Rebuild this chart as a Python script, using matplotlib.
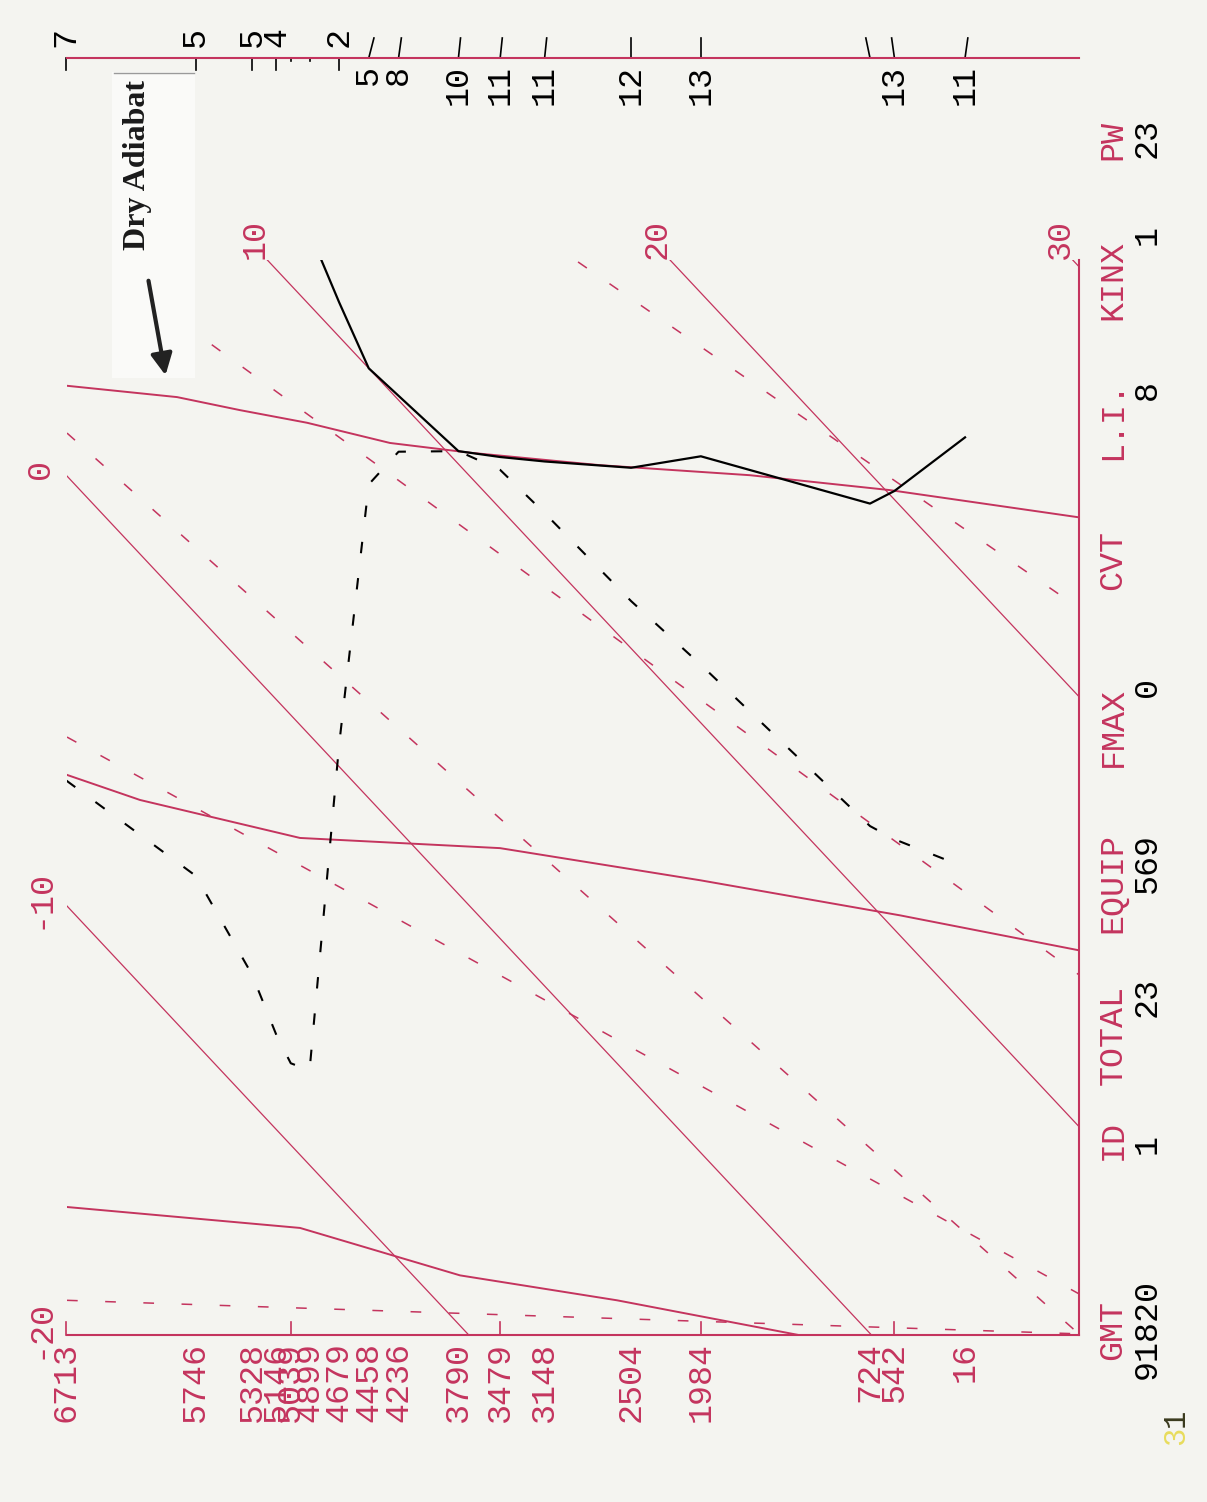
import matplotlib
matplotlib.use('Agg')
import matplotlib.pyplot as plt
from matplotlib.patches import Rectangle, FancyArrowPatch
import numpy as np

RED = '#c4345e'
BG = '#f4f4f0'
MONO = 'Liberation Mono'

# skew: plotted value = T - SKEW*(H_TOP - h)
H_TOP = 6713.0
SKEW = 1 / 300.0

def sk(h, t):
    h = np.asarray(h, float)
    t = np.asarray(t, float)
    return t - SKEW * (H_TOP - h)

# sounding levels (m) and their labels
levels = [6713, 5746, 5328, 5146, 5039, 4899, 4679, 4458, 4236,
          3790, 3479, 3148, 2504, 1984, 724, 542, 16]
level_labels = [str(v) for v in levels]
tick_heights = [6713, 5039, 3479, 1984, 542]

# temperature (solid black)
temp_h = [4899, 4679, 4458, 4236, 3790, 3479, 3148, 2504, 1984, 724, 542, 16]
temp_t = [11.7, 10.8, 10.0, 10.1, 10.3, 11.2, 12.2, 14.2, 16.2, 19.3, 20.2, 23.2]

# dew point (dashed black)
dew_h = levels
dew_t = [-7.1, -6.1, -7.0, -7.8, -8.1, -7.8, 0.5, 7.3, 8.8, 10.3, 10.9,
         11.0, 11.1, 11.35, 11.8, 12.1, 13.2]

# wind speeds at the levels, tick tilt (deg) and side of the label
wind_spd = ['7', '5', '5', '4', '', '', '2', '5', '8', '10', '11', '11', '12', '13', '', '13', '11']
wind_tilt = [0, 0, 0, 0, 0, 0, 0, 15, 8, 6, 6, 6, 0, 0, -12, -8, 8]
wind_above = [True] * 7 + [False] * 10

# red solid curves (dry adiabats)
adiab1_h = [6706, 5886, 5417, 4918, 4300, 3704, 2735, 1618, 575, -833]
adiab1_t = [2.1, 4.57, 5.83, 7.2, 8.79, 10.55, 13.49, 16.98, 20.11, 24.17]
adiab2_h = [6706, 6162, 4970, 3480, 1990, 500, -833]
adiab2_t = [-6.95, -5.72, -2.63, 2.1, 6.32, 10.47, 14.1]
adiab3_h = [6706, 4970, 3778, 2608, 1245]
adiab3_t = [-17.0, -11.7, -8.83, -5.51, -1.78]

# red dashed lines: (h1, t1, h2, t2)
mix_lines = [
    (6706, 1.0, -841, 5.18),
    (6706, -6.07, -833, 6.11),
    (2899, 17.67, -833, 22.06),
    (6088, 6.16, -833, 13.53),
    (6706, -19.17, -833, 5.18),
]

isotherms = [-20, -10, 0, 10, 20, 30]

stat_names = ['PW', 'KINX', 'L.I.', 'CVT', 'FMAX', 'EQUIP', 'TOTAL', 'ID', 'GMT']
stat_values = ['23', '1', '8', '', '0', '569', '23', '1', '91820']

W, H = 1207, 1502
fig = plt.figure(figsize=(W / 100, H / 100), dpi=100)
fig.patch.set_facecolor(BG)

def fx(px):
    return px / W

def fy(py):
    return 1 - py / H

ax = fig.add_axes([fx(67), fy(1335), (1079 - 67) / W, (1335 - 58) / H])
ax.patch.set_visible(False)

H_LEFT, H_RIGHT = 6706, -833
Y_BOT, Y_TOP, Y_WIND = -20.0, 5.0, 9.7
ax.set_xlim(H_LEFT, H_RIGHT)
ax.set_ylim(Y_BOT, Y_WIND)
ax.set_xticks([])
ax.set_yticks([])
ax.spines['left'].set_visible(False)
for s in ['top', 'right', 'bottom']:
    ax.spines[s].set_color(RED)
    ax.spines[s].set_linewidth(1.5)
ax.spines['right'].set_bounds(Y_BOT, Y_TOP)

PX_H = (H_LEFT - H_RIGHT) / 1012.0
PX_Y = (Y_WIND - Y_BOT) / 1277.0

clip = Rectangle((H_RIGHT, Y_BOT), H_LEFT - H_RIGHT, Y_TOP - Y_BOT,
                 transform=ax.transData, fill=False, visible=False)
ax.add_patch(clip)

def draw(x, y, **kw):
    ln, = ax.plot(x, y, **kw)
    ln.set_clip_path(clip)
    return ln

# isotherms
hh = np.linspace(H_RIGHT, H_LEFT, 300)
for t in isotherms:
    draw(hh, sk(hh, t), color=RED, lw=0.9)
    if t <= 0:
        ax.annotate(str(t), xy=(H_LEFT, sk(H_LEFT, t)), xytext=(-8, 5),
                    textcoords='offset points', rotation=90, ha='right',
                    va='center', color=RED, fontsize=24, family=MONO,
                    annotation_clip=False)
    else:
        hc = H_TOP - (t - Y_TOP) / SKEW
        ax.annotate(str(t), xy=(hc, Y_TOP), xytext=(-9, 1),
                    textcoords='offset points', rotation=90, ha='center',
                    va='bottom', color=RED, fontsize=24, family=MONO,
                    annotation_clip=False)

# dashed red lines
for h1, t1, h2, t2 in mix_lines:
    draw([h1, h2], sk([h1, h2], [t1, t2]), color=RED, lw=1.1, dashes=(7, 18))

# dry adiabats
for ah, at in [(adiab1_h, adiab1_t), (adiab2_h, adiab2_t), (adiab3_h, adiab3_t)]:
    draw(ah, sk(ah, at), color=RED, lw=1.4)

# sounding
draw(dew_h, sk(dew_h, dew_t), color='black', lw=1.5, dashes=(5.5, 12))
draw(temp_h, sk(temp_h, temp_t), color='black', lw=1.6)

# bottom axis: height labels and ticks
for h, lbl in zip(levels, level_labels):
    ax.annotate(lbl, xy=(h, 0), xycoords=('data', 'axes fraction'),
                xytext=(0, -5), textcoords='offset points', rotation=90,
                ha='center', va='top', color=RED, fontsize=24, family=MONO)
for h in tick_heights:
    ax.plot([h, h], [Y_BOT, Y_BOT + 13 * PX_Y], color=RED, lw=1.2, clip_on=False)

# wind along the top line
for h, spd, tilt, above in zip(levels, wind_spd, wind_tilt, wind_above):
    dx = -np.sin(np.radians(tilt))
    if above:
        L = 12 if spd else 3
        ax.plot([h, h - dx * L * PX_H], [Y_WIND, Y_WIND - L * PX_Y],
                color='black', lw=1.2, clip_on=False)
        ax.annotate(spd, xy=(h, Y_WIND), xytext=(0, 8), textcoords='offset points',
                    rotation=90, ha='center', va='bottom', color='black',
                    fontsize=24, family=MONO, annotation_clip=False)
    else:
        L = 20
        ax.plot([h, h + dx * L * PX_H], [Y_WIND, Y_WIND + L * PX_Y],
                color='black', lw=1.2, clip_on=False)
        ax.annotate(spd, xy=(h, Y_WIND), xytext=(0, -5), textcoords='offset points',
                    rotation=90, ha='center', va='top', color='black',
                    fontsize=24, family=MONO, annotation_clip=False)

# station info along the right side
lab_top = [120, 240, 380, 530, 687, 833, 985, 1120, 1300]
val_top = [118, 225, 380, 0, 677, 833, 977, 1134, 1279]
for name, val, ly, vy in zip(stat_names, stat_values, lab_top, val_top):
    fig.text(fx(1113), fy(ly), name, rotation=90, ha='center', va='top',
             color=RED, fontsize=24, family=MONO)
    if val:
        fig.text(fx(1147), fy(vy), val, rotation=90, ha='center', va='top',
                 color='black', fontsize=24, family=MONO)

fig.text(fx(1176), fy(1445), '3', rotation=90, ha='center', va='bottom',
         color='#e8dc5c', fontsize=22, family=MONO)
fig.text(fx(1176), fy(1427), '1', rotation=90, ha='center', va='bottom',
         color='#3a3a1e', fontsize=22, family=MONO)

# pasted "Dry Adiabat" label
fig.add_artist(Rectangle((fx(112), fy(378)), 83 / W, 306 / H, transform=fig.transFigure,
                         facecolor='#fafaf8', edgecolor='none', zorder=2))
fig.add_artist(plt.Line2D([fx(114), fx(194)], [fy(73), fy(73)], transform=fig.transFigure,
                          color='#9a9a9a', lw=1.0, zorder=3))
fig.text(fx(137), fy(165), 'Dry Adiabat', rotation=90, ha='center', va='center',
         family='Liberation Serif', fontweight='bold', fontsize=23, color='#1a1a1a',
         zorder=4)
fig.add_artist(FancyArrowPatch((fx(148), fy(278)), (fx(166), fy(378)),
                               transform=fig.transFigure, arrowstyle='-|>',
                               mutation_scale=32, lw=3, color='#222222', zorder=4))

fig.savefig('out.png', dpi=100, facecolor=BG)
